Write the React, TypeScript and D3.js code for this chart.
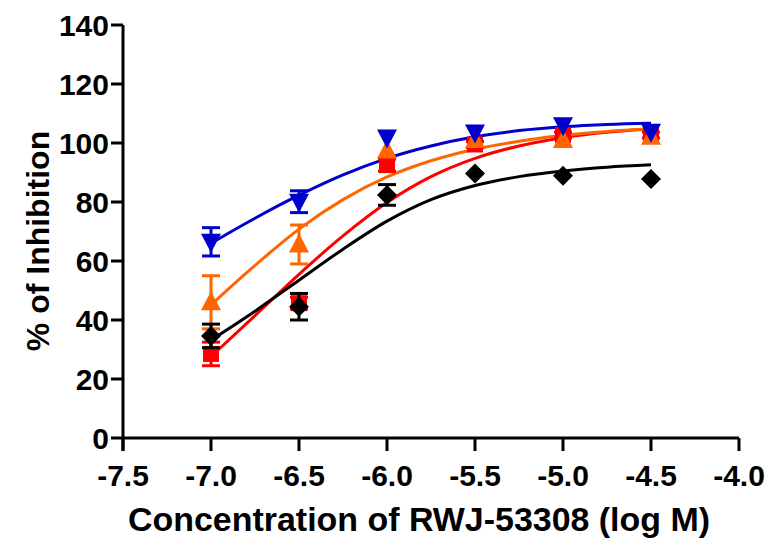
import React from "react";
import * as d3 from "d3";

const xTicks = [-7.5, -7.0, -6.5, -6.0, -5.5, -5.0, -4.5, -4.0];
const yTicks = [0, 20, 40, 60, 80, 100, 120, 140];

const doseX = [-7.0, -6.5, -6.0, -5.5, -5.0, -4.5];

// Observed means and SEM
const redMean = [28.5, 45.7, 92.5, 99.5, 102.7, 102.7];
const redErr = [4, 2, 2, 1, 1, 1];
const orangeMean = [46, 65.6, 97.5, 101, 101, 102.1];
const orangeErr = [9, 6.6, 0, 0, 0, 0];
const blackMean = [34.6, 44.5, 82.4, 89.7, 88.9, 87.8];
const blackErr = [4, 4.5, 3.5, 0, 0, 0];
const blueMean = [66.5, 80.1, 101.9, 103.6, 106, 103.8];
const blueErr = [4.8, 3.7, 0, 0, 0, 0];

// Fitted curves
const curveX = [-7.0, -6.75, -6.5, -6.25, -6.0, -5.75, -5.5, -5.25, -5.0, -4.75, -4.5];
const redCurve = [27.6, 41.5, 55.5, 68.5, 79.8, 88.6, 94.8, 99.0, 101.8, 103.6, 104.8];
const orangeCurve = [45.1, 58.5, 70.8, 80.8, 88.5, 94.0, 97.9, 100.6, 102.6, 103.9, 104.8];
const blackCurve = [33.2, 43.0, 53.5, 64.0, 73.5, 80.8, 85.6, 88.6, 90.5, 91.8, 92.6];
const blueCurve = [66.0, 74.5, 82.3, 89.2, 94.8, 99.0, 102.1, 104.2, 105.5, 106.3, 106.7];

type Shape = "square" | "triangleUp" | "diamond" | "triangleDown";

const series: { name: string; color: string; shape: Shape; mean: number[]; err: number[]; curve: number[] }[] = [
  { name: "red", color: "#FF0000", shape: "square", mean: redMean, err: redErr, curve: redCurve },
  { name: "orange", color: "#FF6600", shape: "triangleUp", mean: orangeMean, err: orangeErr, curve: orangeCurve },
  { name: "black", color: "#000000", shape: "diamond", mean: blackMean, err: blackErr, curve: blackCurve },
  { name: "blue", color: "#0000CC", shape: "triangleDown", mean: blueMean, err: blueErr, curve: blueCurve },
];

const FONT = "'Liberation Sans', Arial, Helvetica, sans-serif";

function markerPath(shape: Shape): string {
  switch (shape) {
    case "square":
      return "M-8,-8L8,-8L8,8L-8,8Z";
    case "triangleUp":
      return "M0,-11L10,8L-10,8Z";
    case "triangleDown":
      return "M0,11L10,-8L-10,-8Z";
    case "diamond":
      return "M0,-10L10,0L0,10L-10,0Z";
  }
}

export default function App() {
  const x = d3.scaleLinear().domain([-7.5, -4.0]).range([123, 739]);
  const y = d3.scaleLinear().domain([0, 140]).range([438, 25]);
  const line = d3
    .line<number>()
    .x((_, i) => x(curveX[i]))
    .y((d) => y(d))
    .curve(d3.curveMonotoneX);

  return (
    <svg
      width={770}
      height={542}
      style={{ position: "absolute", left: 0, top: 0, background: "#fff" }}
      fontFamily={FONT}
      fontWeight="bold"
    >
      <rect x={0} y={0} width={770} height={542} fill="#fff" />
      {/* Axes */}
      <line x1={x(-7.5)} x2={x(-4.0)} y1={y(0)} y2={y(0)} stroke="#000" strokeWidth={3} />
      <line x1={x(-7.5)} x2={x(-7.5)} y1={y(140)} y2={y(0) + 13} stroke="#000" strokeWidth={3} />
      {xTicks.map((t) => (
        <g key={"xt" + t}>
          <line x1={x(t)} x2={x(t)} y1={y(0)} y2={y(0) + 13} stroke="#000" strokeWidth={3} />
          <text x={x(t)} y={486} textAnchor="middle" fontSize={30} fill="#000">
            {t.toFixed(1)}
          </text>
        </g>
      ))}
      {yTicks.map((t) => (
        <g key={"yt" + t}>
          <line x1={x(-7.5) - 12} x2={x(-7.5)} y1={y(t)} y2={y(t)} stroke="#000" strokeWidth={3} />
          <text x={109} y={y(t)} dy="0.36em" textAnchor="end" fontSize={30} fill="#000">
            {t}
          </text>
        </g>
      ))}
      <text x={419} y={531} textAnchor="middle" fontSize={33} fill="#000" textLength={582} lengthAdjust="spacingAndGlyphs">
        Concentration of RWJ-53308 (log M)
      </text>
      <text transform="translate(49,241) rotate(-90)" textAnchor="middle" fontSize={32} fill="#000">
        % of Inhibition
      </text>

      {/* Curves */}
      {series.map((s) => (
        <path key={"c" + s.name} d={line(s.curve) || ""} fill="none" stroke={s.color} strokeWidth={3} />
      ))}

      {/* Points with error bars */}
      {series.map((s) => (
        <g key={"p" + s.name}>
          {s.mean.map((m, i) => {
            const cx = x(doseX[i]);
            const e = s.err[i];
            return (
              <g key={i}>
                {e > 0 && (
                  <g stroke={s.color} strokeWidth={3}>
                    <line x1={cx} x2={cx} y1={y(m + e)} y2={y(m - e)} />
                    <line x1={cx - 9} x2={cx + 9} y1={y(m + e)} y2={y(m + e)} />
                    <line x1={cx - 9} x2={cx + 9} y1={y(m - e)} y2={y(m - e)} />
                  </g>
                )}
                <path d={markerPath(s.shape)} transform={`translate(${cx},${y(m)})`} fill={s.color} />
              </g>
            );
          })}
        </g>
      ))}
    </svg>
  );
}
